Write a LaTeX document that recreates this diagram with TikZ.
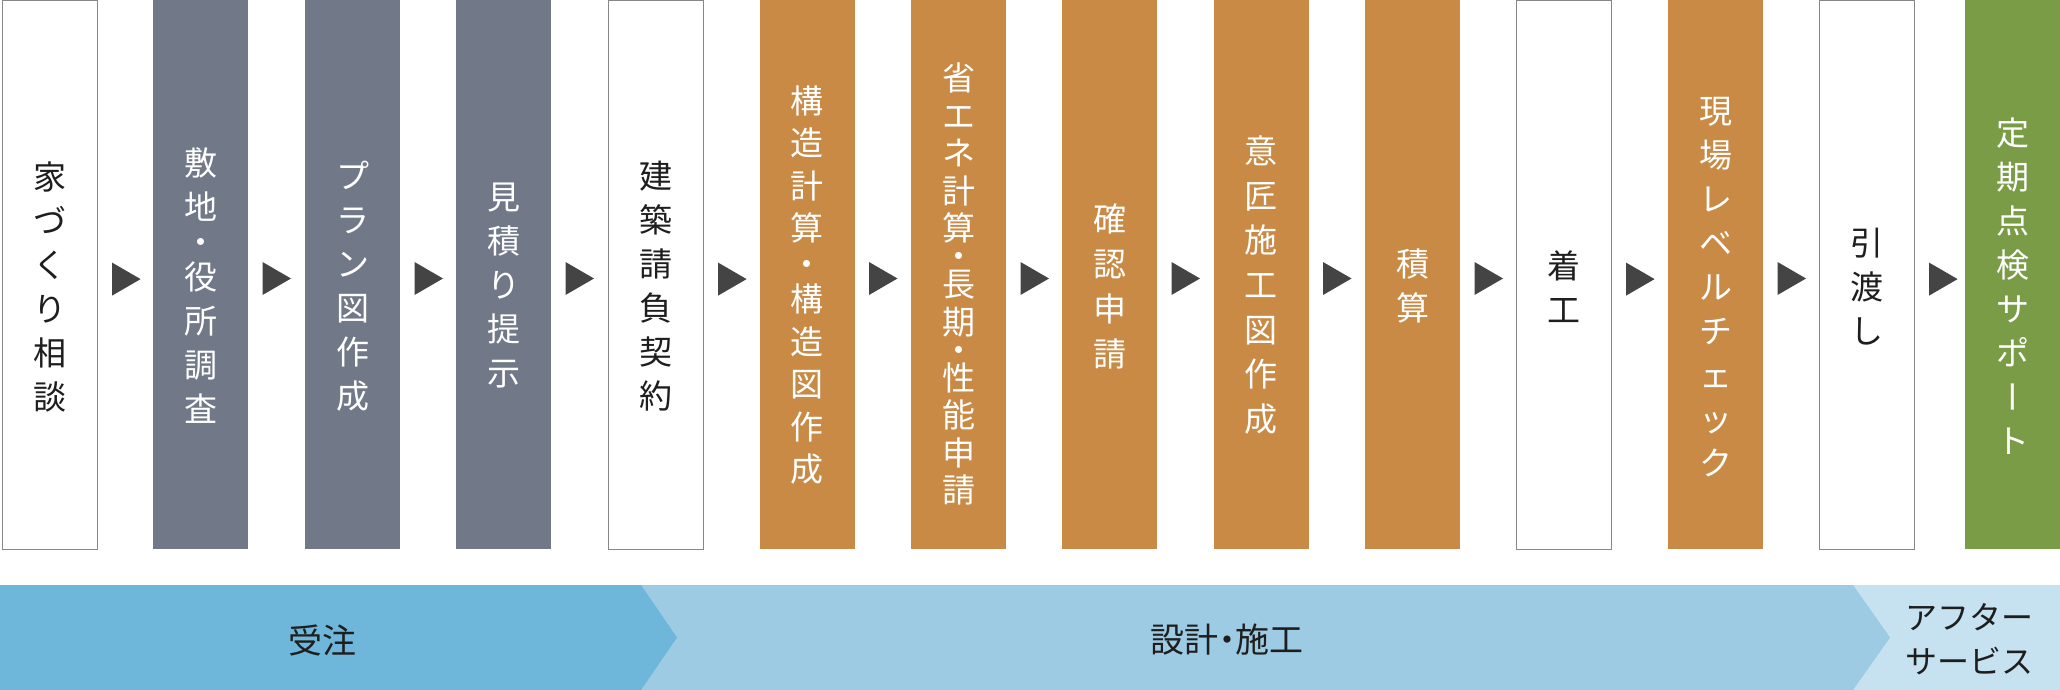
\documentclass[tikz,border=0pt]{standalone}
\usepackage{fontspec}
\setmainfont{Noto Sans CJK JP}
\usepackage{graphicx}
\usetikzlibrary{calc}
\definecolor{grayc}{RGB}{113,120,135}
\definecolor{orangec}{RGB}{201,138,69}
\definecolor{greenc}{RGB}{123,156,70}
\definecolor{bandA}{RGB}{111,183,218}
\definecolor{bandB}{RGB}{157,203,228}
\definecolor{bandC}{RGB}{198,226,241}
\definecolor{arrowc}{RGB}{68,68,68}
\definecolor{linec}{RGB}{135,135,135}
\definecolor{inkc}{RGB}{30,30,30}
\newcommand{\vchoon}{\rotatebox[origin=c]{90}{\raisebox{0pt}[0.88em][0.12em]{ー}}}
\tikzset{
  boxshape/.style={rectangle, minimum width=95pt, minimum height=549pt, inner sep=0pt, outer sep=0pt, anchor=north west},
  outlbox/.style={boxshape, draw=linec, line width=1.3pt, fill=white},
  graybox/.style={boxshape, fill=grayc},
  orangebox/.style={boxshape, fill=orangec},
  greenbox/.style={boxshape, fill=greenc},
  vtext/.style={align=center, inner sep=0pt, font=\fontsize{33}{44}\selectfont},
  darktext/.style={vtext, text=inkc},
  lighttext/.style={vtext, text=white},
  bandtext/.style={align=center, inner sep=0pt, text=inkc, font=\fontsize{34}{44}\selectfont},
}
\begin{document}
\begin{tikzpicture}[x=1pt,y=-1pt]
\useasboundingbox (0,0) rectangle (2060,690);
% boxes
\node[outlbox]    (b1)  at (2.6,0.6) {};
\node[graybox]    (b2)  at (153,0) {};
\node[graybox]    (b3)  at (305,0) {};
\node[graybox]    (b4)  at (456,0) {};
\node[outlbox]    (b5)  at (608.6,0.6) {};
\node[orangebox]  (b6)  at (759.5,0) {};
\node[orangebox]  (b7)  at (911,0) {};
\node[orangebox]  (b8)  at (1062,0) {};
\node[orangebox]  (b9)  at (1213.5,0) {};
\node[orangebox]  (b10) at (1365,0) {};
\node[outlbox]    (b11) at (1516.6,0.6) {};
\node[orangebox]  (b12) at (1668,0) {};
\node[outlbox]    (b13) at (1819.6,0.6) {};
\node[greenbox]   (b14) at (1965,0) {};
% texts
\node[darktext]  (t1)  at ($(b1.center)+(0,11.5)$) {家\\づ\\く\\り\\相\\談};
\node[lighttext] (t2)  at ($(b2.center)+(0,11.5)$) {敷\\地\\[-9pt]・\\[-9pt]役\\所\\調\\査};
\node[lighttext] (t3)  at ($(b3.center)+(0,11.5)$) {プ\\ラ\\ン\\図\\作\\成};
\node[lighttext] (t4)  at ($(b4.center)+(0,11.5)$) {見\\積\\り\\提\\示};
\node[darktext]  (t5)  at ($(b5.center)+(0,11.5)$) {建\\築\\請\\負\\契\\約};
\node[lighttext, font=\fontsize{33}{42.5}\selectfont] (t6) at ($(b6.center)+(0,10.5)$) {構\\造\\計\\算\\[-7pt]・\\[-7pt]構\\造\\図\\作\\成};
\node[lighttext, font=\fontsize{33}{37.5}\selectfont] (t7) at ($(b7.center)+(0,9.5)$) {省\\エ\\ネ\\計\\算\\[-9.5pt]・\\[-9.5pt]長\\期\\[-9.5pt]・\\[-9.5pt]性\\能\\申\\請};
\node[lighttext, font=\fontsize{33}{45}\selectfont] (t8)  at ($(b8.center)+(0,12)$) {確\\認\\申\\請};
\node[lighttext, font=\fontsize{33}{44.7}\selectfont] (t9)  at ($(b9.center)+(0,10.5)$) {意\\匠\\施\\工\\図\\作\\成};
\node[lighttext] (t10) at ($(b10.center)+(0,11.5)$) {積\\算};
\node[darktext]  (t11) at ($(b11.center)+(0,11.5)$) {着\\工};
\node[lighttext] (t12) at ($(b12.center)+(0,13)$) {現\\場\\レ\\ベ\\ル\\チ\\ェ\\ッ\\ク};
\node[darktext]  (t13) at ($(b13.center)+(0,11.5)$) {引\\渡\\し};
\node[lighttext] (t14) at ($(b14.center)+(0,11.5)$) {定\\期\\点\\検\\サ\\ポ\\\vchoon\\ト};
% arrows between boxes
\foreach \i in {1,...,13}{
  \fill[arrowc] ($(b\i.north west)+(109.5,262)$) -- ($(b\i.north west)+(138,278.5)$) -- ($(b\i.north west)+(109.5,295)$) -- cycle;
}
% bands
\fill[bandC] (1840,585) rectangle (2060,690);
\fill[bandB] (0,585) -- (1853,585) -- (1890,637.5) -- (1853,690) -- (0,690) -- cycle;
\fill[bandA] (0,585) -- (641,585) -- (677,637.5) -- (641,690) -- (0,690) -- cycle;
\node[bandtext] (p1) at (322,640) {受注};
\node[bandtext] (p2) at (1227,640) {\addfontfeature{RawFeature=+palt}設計・施工};
\node[bandtext, font=\fontsize{32}{44}\selectfont] (p3) at (1969,639) {アフター\\サービス};
\end{tikzpicture}
\end{document}
